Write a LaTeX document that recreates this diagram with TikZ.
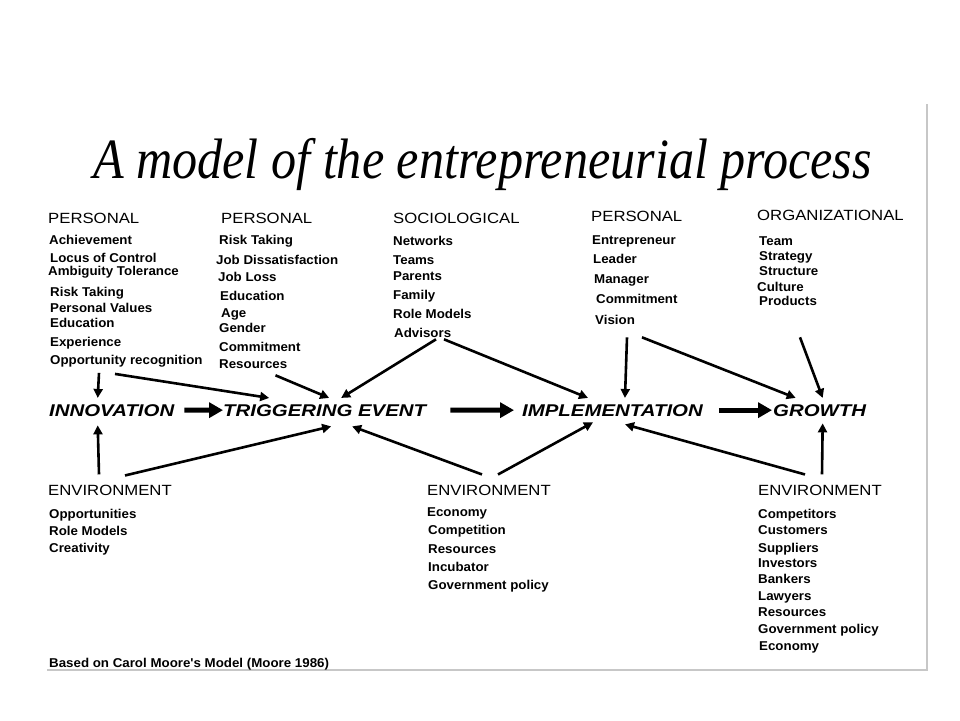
\documentclass[tikz,border=0pt]{standalone}
\usepackage{fontspec}
\usetikzlibrary{arrows.meta}
\newfontfamily\headfont{Liberation Sans}[FakeStretch=1.13]
\newfontfamily\itemfont{Liberation Sans}[FakeStretch=1.04]
\newfontfamily\stagefont{Liberation Sans}[FakeStretch=1.2]
\newfontfamily\titlefont{Liberation Serif}[FakeStretch=0.88]
\begin{document}
\begin{tikzpicture}[
    x=1pt, y=-1pt,
    >={Triangle[length=9pt,width=9pt]},
    head/.style={
        anchor=base west,
        inner sep=0pt,
        font=\headfont\fontsize{14.8}{16}\selectfont
    },
    item/.style={
        anchor=base west,
        inner sep=0pt,
        font=\itemfont\bfseries\fontsize{12.8}{14}\selectfont
    },
    stage/.style={
        anchor=base west,
        inner xsep=0pt,
        inner ysep=6pt,
        font=\stagefont\bfseries\itshape\fontsize{17}{20}\selectfont
    },
    link/.style={
        ->,
        line width=2.6pt
    },
    flow/.style={
        -{Triangle[length=14pt,width=15pt]},
        line width=5pt
    },
    frame/.style={
        draw=black!22,
        line width=1.5pt
    }
    ]
    \useasboundingbox (0,0) rectangle (960,720);
    \draw[frame] (927,104) -- (927,670) -- (47,670);

    \node[anchor=base west, inner sep=0pt, font=\titlefont\itshape\fontsize{57}{60}\selectfont] (TITLE) at (93,178) {A model of the entrepreneurial process};

    % upper factors
    \node[head] (HPA) at (48,223) {PERSONAL};
    \node[head] (HPB) at (221,223) {PERSONAL};
    \node[head] (HSO) at (393,223) {SOCIOLOGICAL};
    \node[head] (HPC) at (591,221.5) {PERSONAL};
    \node[head] (HOR) at (757,220) {ORGANIZATIONAL};

    \foreach \x/\y/\txt [count=\i] in {49/244/Achievement, 50/262/Locus of Control, 48/275/Ambiguity Tolerance, 50/296/Risk Taking, 50/312/Personal Values, 50/327/Education, 50/346/Experience, 50/364/Opportunity recognition}
        \node[item] (PA-\i) at (\x,\y) {\txt};
    \foreach \x/\y/\txt [count=\i] in {219/244/Risk Taking, 216/264/Job Dissatisfaction, 218/281/Job Loss, 220/300/Education, 221/317/Age, 219/332/Gender, 219/351/Commitment, 219/368/Resources}
        \node[item] (PB-\i) at (\x,\y) {\txt};
    \foreach \x/\y/\txt [count=\i] in {393/245/Networks, 393/264/Teams, 393/280/Parents, 393/299/Family, 393/318/Role Models, 394/337/Advisors}
        \node[item] (SO-\i) at (\x,\y) {\txt};
    \foreach \x/\y/\txt [count=\i] in {592/244/Entrepreneur, 593/263/Leader, 594/283/Manager, 596/303/Commitment, 595/324/Vision}
        \node[item] (PC-\i) at (\x,\y) {\txt};
    \foreach \x/\y/\txt [count=\i] in {759/245/Team, 759/260/Strategy, 759/275/Structure, 757/291/Culture, 759/305/Products}
        \node[item] (OR-\i) at (\x,\y) {\txt};

    % stages
    \node[stage] (INNOV) at (49,416) {INNOVATION};
    \node[stage] (TRIG) at (223,416) {TRIGGERING EVENT};
    \node[stage] (IMPL) at (522,416) {IMPLEMENTATION};
    \node[stage] (GROW) at (773,416) {GROWTH};

    \draw[flow, shorten <=10pt] (INNOV) -- (TRIG);
    \draw[flow, shorten <=24pt, shorten >=8pt] (TRIG) -- (IMPL);
    \draw[flow, shorten <=16pt, shorten >=1pt] (IMPL) -- (GROW);

    % environment
    \node[head] (ENVA) at (48,495) {ENVIRONMENT};
    \node[head] (ENVB) at (427,495) {ENVIRONMENT};
    \node[head] (ENVC) at (758,495) {ENVIRONMENT};

    \foreach \x/\y/\txt [count=\i] in {49/518/Opportunities, 49/535/Role Models, 49/552/Creativity}
        \node[item] (EA-\i) at (\x,\y) {\txt};
    \foreach \x/\y/\txt [count=\i] in {427/516/Economy, 428/534/Competition, 428/553/Resources, 428/571/Incubator, 428/589/Government policy}
        \node[item] (EB-\i) at (\x,\y) {\txt};
    \foreach \x/\y/\txt [count=\i] in {758/518/Competitors, 758/534/Customers, 758/552/Suppliers, 758/567/Investors, 758/583/Bankers, 758/600/Lawyers, 758/616/Resources, 758/633/Government policy, 759/650/Economy}
        \node[item] (EC-\i) at (\x,\y) {\txt};

    \node[item] (SOURCE) at (49,667) {Based on Carol Moore's Model (Moore 1986)};

    % influences from above
    \draw[link] ([shift={(49,6)}]PA-8.south west) -- ([shift={(-14,0)}]INNOV.north);
    \draw[link] ([shift={(65,7)}]PA-8.south west) -- ([shift={(-55.5,0)}]TRIG.north);
    \draw[link] ([shift={(56.5,7)}]PB-8.south west) -- ([shift={(4.5,0)}]TRIG.north);
    \draw[link] ([shift={(42,2)}]SO-6.south west) -- ([shift={(16.5,0)}]TRIG.north);
    \draw[link] ([shift={(50,2)}]SO-6.south west) -- ([shift={(-24.5,0)}]IMPL.north);
    \draw[link] ([shift={(32,13)}]PC-5.south west) -- ([shift={(12.5,0)}]IMPL.north);
    \draw[link] ([shift={(47,13)}]PC-5.south west) -- ([shift={(-24,0)}]GROW.north);
    \draw[link] ([shift={(41,32)}]OR-5.south west) -- ([shift={(3,0)}]GROW.north);

    % influences from below
    \draw[link] ([shift={(51,-10)}]ENVA.north west) -- ([shift={(-14,3)}]INNOV.south);
    \draw[link] ([shift={(77,-9)}]ENVA.north west) -- ([shift={(6.5,4)}]TRIG.south);
    \draw[link] ([shift={(55,-10)}]ENVB.north west) -- ([shift={(27.5,4)}]TRIG.south);
    \draw[link] ([shift={(71,-10)}]ENVB.north west) -- ([shift={(-19.5,0)}]IMPL.south);
    \draw[link] ([shift={(47,-10)}]ENVC.north west) -- ([shift={(12.5,2)}]IMPL.south);
    \draw[link] ([shift={(64,-10)}]ENVC.north west) -- ([shift={(3,1)}]GROW.south);
\end{tikzpicture}
\end{document}
